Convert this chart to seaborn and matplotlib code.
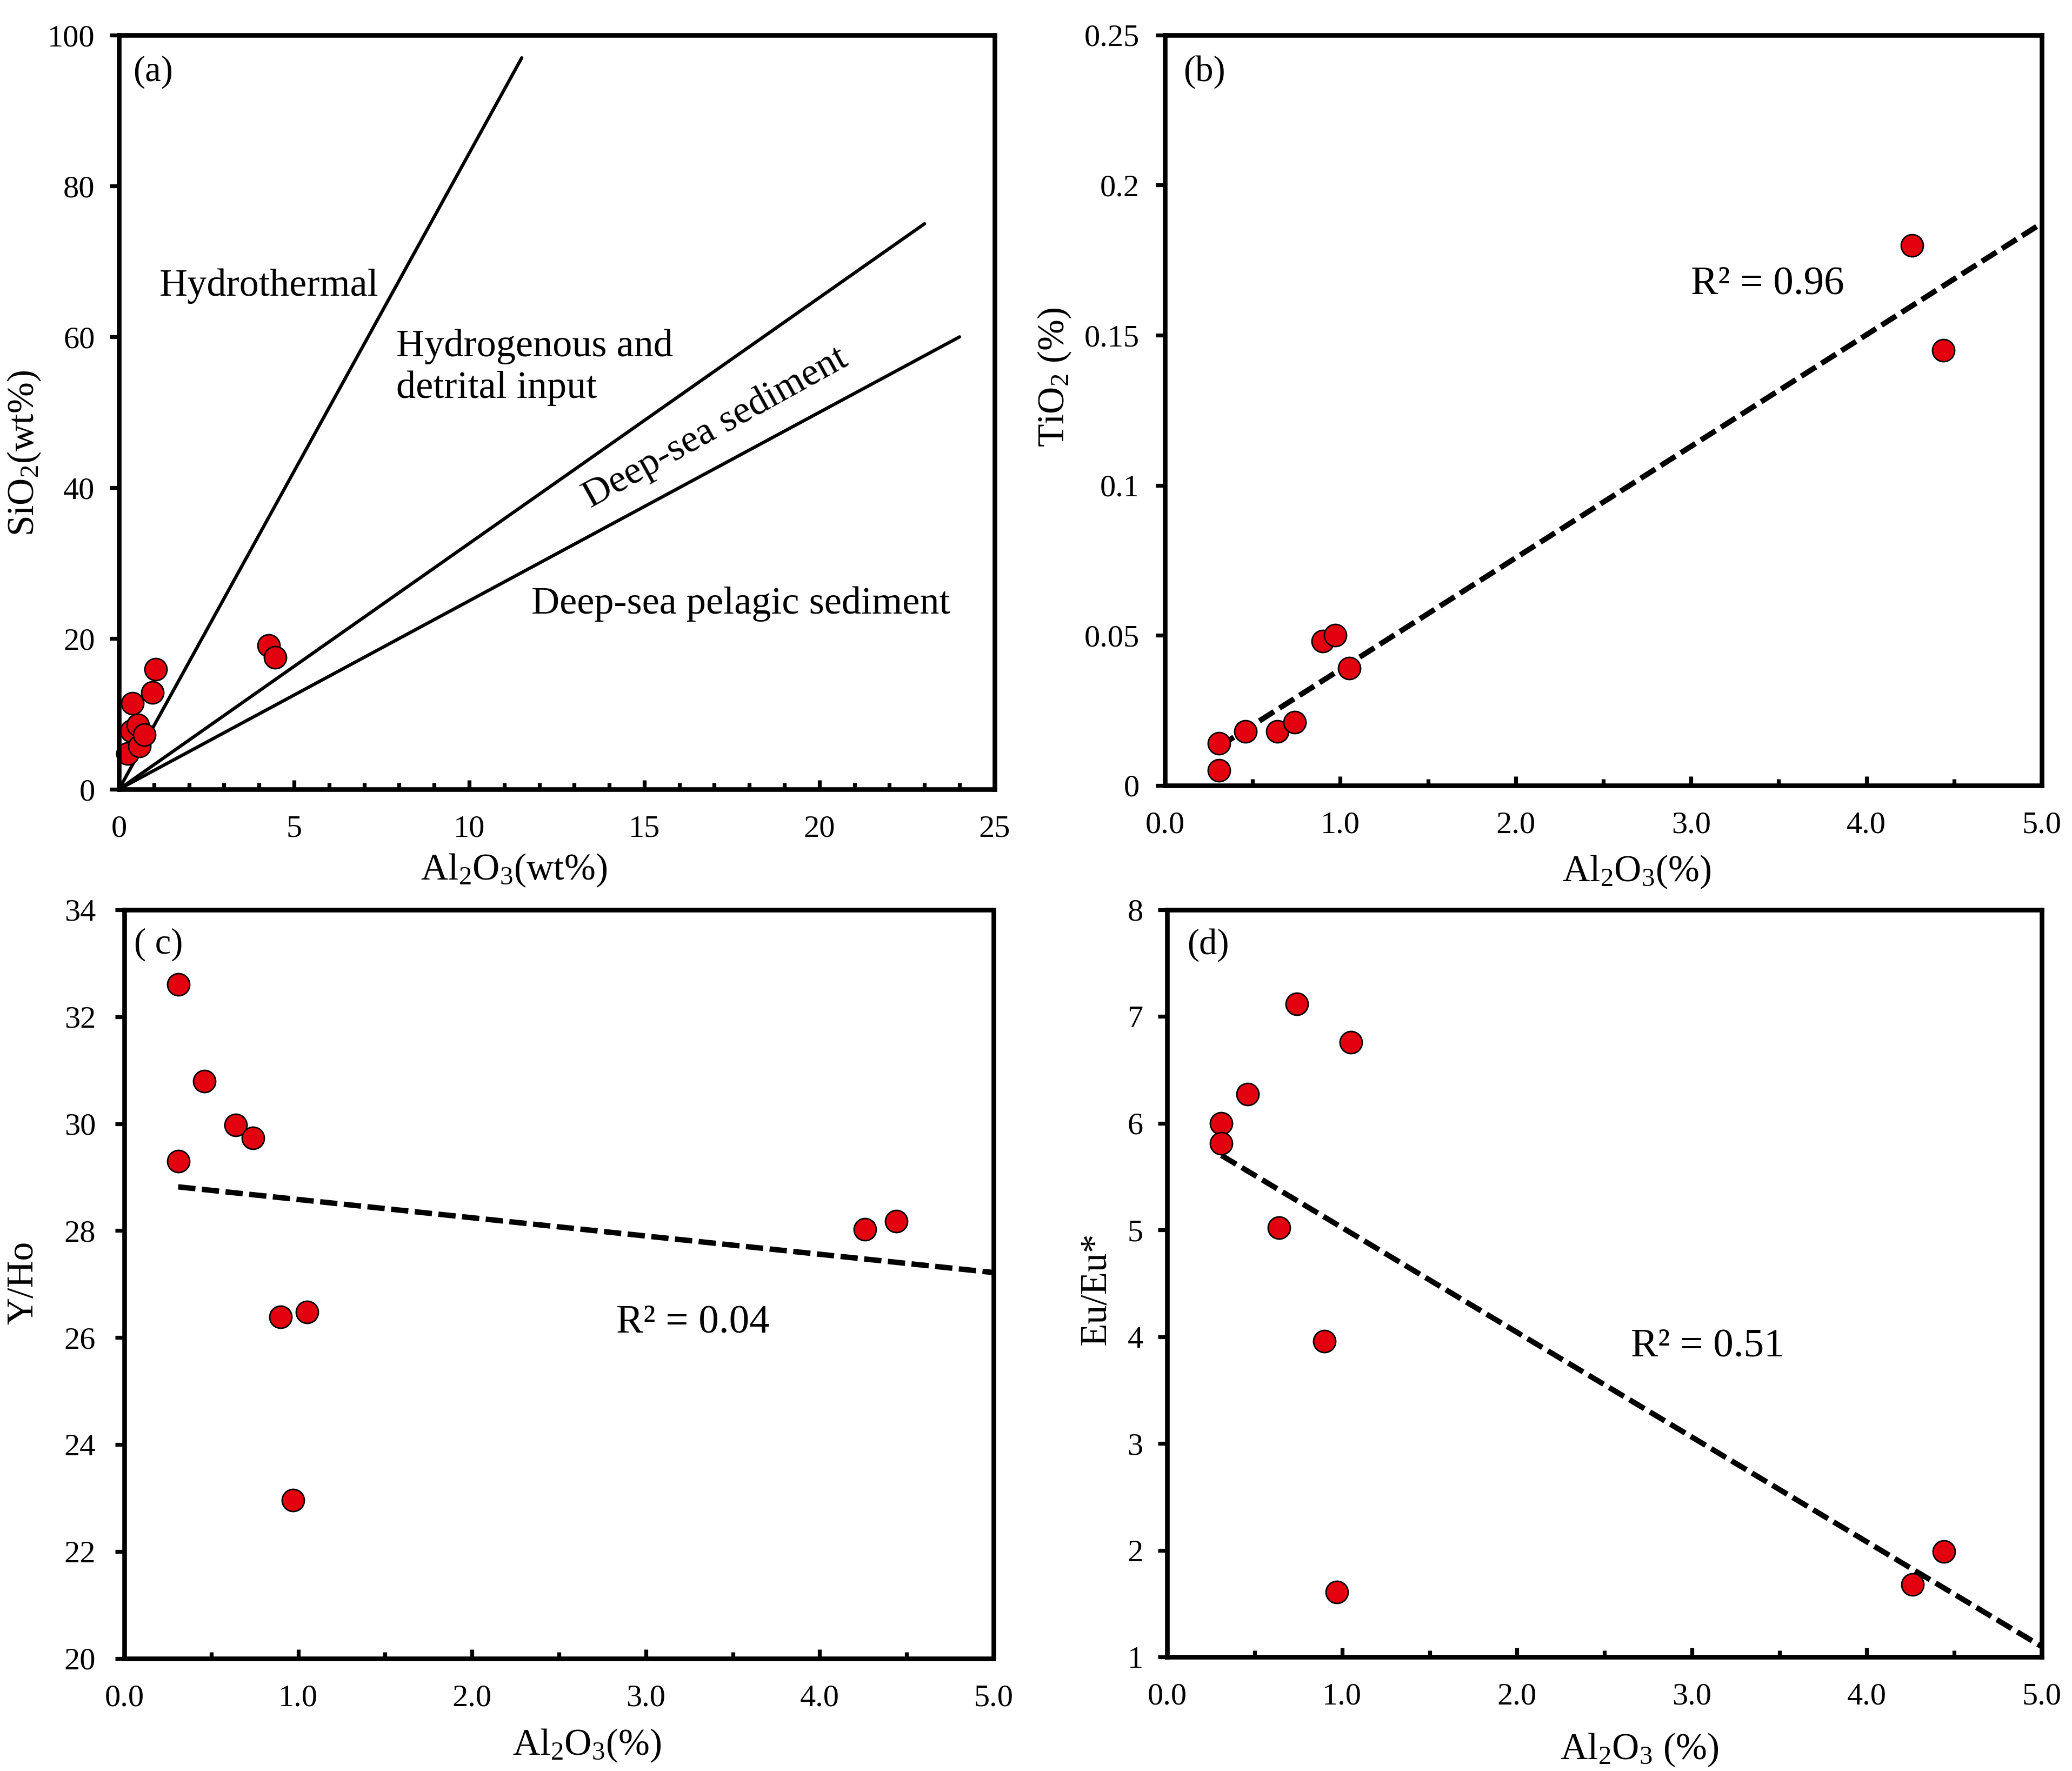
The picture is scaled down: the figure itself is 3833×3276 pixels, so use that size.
import numpy as np
import matplotlib
matplotlib.use("Agg")
import matplotlib.pyplot as plt
import seaborn as sns
from matplotlib.ticker import MultipleLocator

# ---- data ----
# panel (a): SiO2 vs Al2O3 (wt%)
a_al2o3 = [0.24, 0.35, 0.39, 0.54, 0.58, 0.73, 0.95, 1.05, 4.28, 4.46]
a_sio2 = [4.75, 7.77, 11.39, 8.52, 5.73, 7.24, 12.82, 15.91, 19.08, 17.50]
# discrimination lines from the origin
bound_x_end = [11.5, 23.0, 24.0]
bound_y_end = [97.0, 75.0, 60.0]

# panels (b)-(d): same samples
al2o3 = [0.31, 0.31, 0.46, 0.64, 0.74, 0.90, 0.97, 1.05, 4.26, 4.44]
tio2 = [0.014, 0.005, 0.018, 0.018, 0.021, 0.048, 0.050, 0.039, 0.180, 0.145]
y_ho = [32.6, 29.3, 30.79, 29.98, 29.73, 26.39, 22.96, 26.48, 28.03, 28.18]
eu_eu = [6.0, 5.81, 6.27, 5.02, 7.12, 3.96, 1.61, 6.76, 1.68, 1.99]

a_xticks = [0, 5, 10, 15, 20, 25]
a_yticks = [0, 20, 40, 60, 80, 100]
al_ticks = [0.0, 1.0, 2.0, 3.0, 4.0, 5.0]
al_labels = ["0.0", "1.0", "2.0", "3.0", "4.0", "5.0"]
b_yticks = [0, 0.05, 0.1, 0.15, 0.2, 0.25]
b_ylabels = ["0", "0.05", "0.1", "0.15", "0.2", "0.25"]
c_yticks = [20, 22, 24, 26, 28, 30, 32, 34]
d_yticks = [1, 2, 3, 4, 5, 6, 7, 8]

RED = "#e3000f"

sns.set_theme(style="ticks")
plt.rcParams["font.family"] = ["Liberation Serif", "DejaVu Serif"]
plt.rcParams["mathtext.fontset"] = "custom"
plt.rcParams["mathtext.rm"] = "Liberation Serif"
plt.rcParams["mathtext.it"] = "Liberation Serif:italic"
plt.rcParams["mathtext.bf"] = "Liberation Serif:bold"
for k in ["text.color", "axes.labelcolor", "xtick.color", "ytick.color", "axes.edgecolor"]:
    plt.rcParams[k] = "black"

fig = plt.figure(figsize=(3833 / 200, 3276 / 200), dpi=200)
fig.patch.set_facecolor("white")

ax_a = fig.add_axes([0.0574, 0.5543, 0.4226, 0.4258])
ax_b = fig.add_axes([0.5622, 0.5565, 0.4232, 0.4237])
ax_c = fig.add_axes([0.0600, 0.0635, 0.4195, 0.4228])
ax_d = fig.add_axes([0.5633, 0.0644, 0.4221, 0.4219])


def style_axis(ax, xlim, ylim, xticks, xlabels, xminor, yticks, ylabels, ypad):
    ax.set_xlim(xlim)
    ax.set_ylim(ylim)
    ax.set_xticks(xticks)
    ax.set_xticklabels(xlabels)
    ax.xaxis.set_minor_locator(MultipleLocator(xminor))
    ax.set_yticks(yticks)
    ax.set_yticklabels(ylabels)
    ax.tick_params(axis="x", which="major", direction="in", length=6, width=2.6,
                   pad=17, labelsize=21)
    ax.tick_params(axis="x", which="minor", direction="in", length=4.5, width=2.6)
    ax.tick_params(axis="y", which="major", direction="out", length=6, width=2.6,
                   pad=ypad, labelsize=21)
    ax.tick_params(axis="y", which="minor", left=False)
    for sp in ax.spines.values():
        sp.set_visible(True)
        sp.set_linewidth(3.1)
        sp.set_color("black")
        sp.set_capstyle("projecting")
    ax.set_facecolor("white")


def points(ax, x, y):
    sns.scatterplot(x=x, y=y, ax=ax, s=218, color=RED, edgecolor="black",
                    linewidth=1.0, zorder=2.4, clip_on=False, legend=False)


def trend(ax, x, y, tx, ty):
    slope, icpt = np.polyfit(x, y, 1)
    r2 = np.corrcoef(x, y)[0, 1] ** 2
    xs = np.array([min(x), 5.0])
    ax.plot(xs, slope * xs + icpt, color="black", lw=3.6,
            linestyle=(0, (3.2, 1.2)), zorder=2)
    ax.text(tx, ty, f"R\u00b2 = {r2:.2f}", fontsize=27, ha="left", va="center")


def labels(ax, xl, yl, xpos, ypos):
    ax.set_xlabel(xl, fontsize=25)
    ax.set_ylabel(yl, fontsize=25)
    ax.xaxis.set_label_coords(*xpos)
    ax.yaxis.set_label_coords(*ypos)


# ---- (a) ----
for xe, ye in zip(bound_x_end, bound_y_end):
    ax_a.plot([0, xe], [0, ye], color="black", lw=2.2, zorder=2)
points(ax_a, a_al2o3, a_sio2)
style_axis(ax_a, (0, 25), (0, 100), a_xticks, [str(t) for t in a_xticks], 1,
           a_yticks, [str(t) for t in a_yticks], 10)
labels(ax_a, r"Al$_\mathrm{2}$O$_\mathrm{3}$(wt%)", r"SiO$_\mathrm{2}$(wt%)",
       (0.451, -0.083), (-0.087, 0.446))
ax_a.text(0.40, 95.1, "(a)", fontsize=24, ha="left", va="center")
ax_a.text(1.16, 66.7, "Hydrothermal", fontsize=26, ha="left", va="center")
ax_a.text(7.92, 58.7, "Hydrogenous and", fontsize=26, ha="left", va="center")
ax_a.text(7.92, 53.2, "detrital input", fontsize=26, ha="left", va="center")
ax_a.text(17.03, 47.9, "Deep-sea sediment", fontsize=26, ha="center", va="center",
          rotation=29, rotation_mode="anchor")
ax_a.text(11.78, 24.6, "Deep-sea pelagic sediment", fontsize=26, ha="left", va="center")

# ---- (b) ----
points(ax_b, al2o3, tio2)
trend(ax_b, al2o3, tio2, 3.0, 0.1669)
style_axis(ax_b, (0, 5), (0, 0.25), al_ticks, al_labels, 0.5, b_yticks, b_ylabels, 11)
labels(ax_b, r"Al$_\mathrm{2}$O$_\mathrm{3}$(%)", r"TiO$_\mathrm{2}$ (%)",
       (0.538, -0.091), (-0.105, 0.544))
ax_b.text(0.106, 0.2377, "(b)", fontsize=24, ha="left", va="center")

# ---- (c) ----
points(ax_c, al2o3, y_ho)
trend(ax_c, al2o3, y_ho, 2.83, 26.28)
style_axis(ax_c, (0, 5), (20, 34), al_ticks, al_labels, 0.5,
           c_yticks, [str(t) for t in c_yticks], 13)
labels(ax_c, r"Al$_\mathrm{2}$O$_\mathrm{3}$(%)", "Y/Ho",
       (0.532, -0.092), (-0.096, 0.502))
ax_c.text(0.057, 33.35, "( c)", fontsize=24, ha="left", va="center")

# ---- (d) ----
points(ax_d, al2o3, eu_eu)
trend(ax_d, al2o3, eu_eu, 2.65, 3.91)
style_axis(ax_d, (0, 5), (1, 8), al_ticks, al_labels, 0.5,
           d_yticks, [str(t) for t in d_yticks], 10)
labels(ax_d, r"Al$_\mathrm{2}$O$_\mathrm{3}$ (%)", "Eu/Eu*",
       (0.540, -0.100), (-0.061, 0.493))
ax_d.text(0.114, 7.67, "(d)", fontsize=24, ha="left", va="center")

fig.savefig("out.png", dpi=200, facecolor="white")
